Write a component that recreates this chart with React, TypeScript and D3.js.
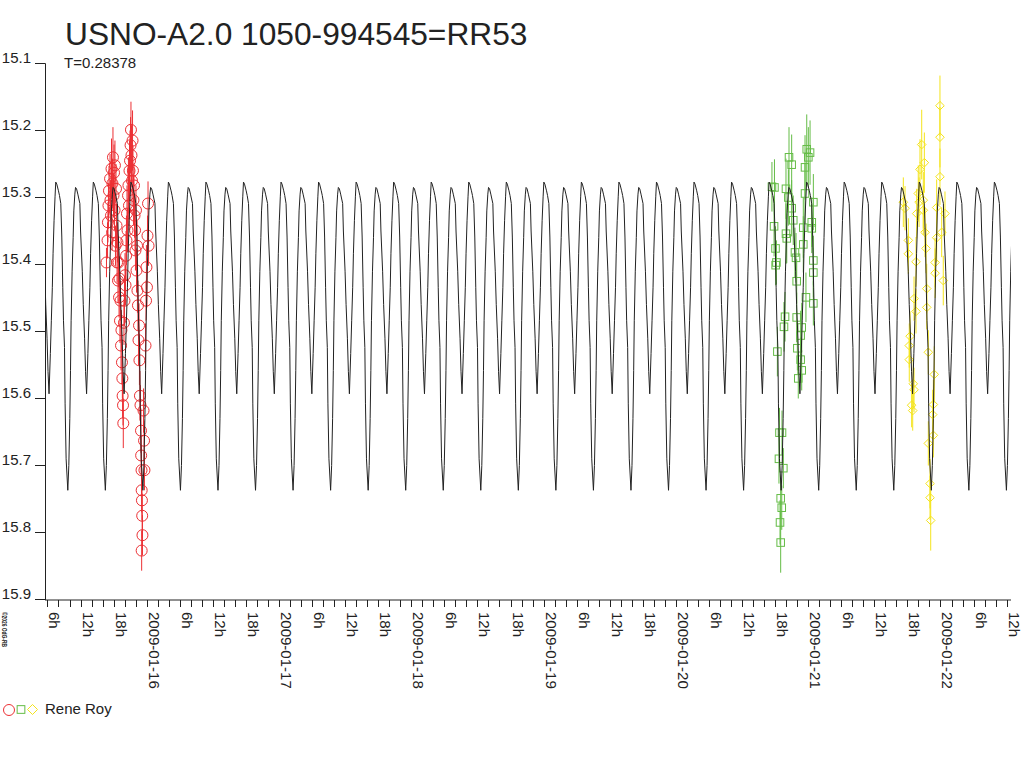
import * as d3 from "d3";

// light curve of USNO-A2.0 1050-994545 (RR53), times are days of January 2009 (UT)
const TITLE = "USNO-A2.0 1050-994545=RR53";
const PERIOD = 0.28378;
const EPOCH = 15.6875; // a deep minimum
const OBSERVER = "Rene Roy";

// one cycle of the model curve (phase 0 = deep minimum)
const templatePhase = [
  0.0, 0.027, 0.053, 0.072, 0.088, 0.115, 0.142, 0.16, 0.187, 0.206, 0.233, 0.267,
  0.321, 0.34, 0.385, 0.412, 0.447, 0.473, 0.5, 0.535, 0.561, 0.588, 0.607, 0.634,
  0.66, 0.679, 0.706, 0.751, 0.778, 0.813, 0.84, 0.866, 0.885, 0.912, 0.928, 0.955,
];
const templateMag = [
  15.737, 15.7, 15.63, 15.558, 15.484, 15.41, 15.36, 15.32, 15.295, 15.285, 15.287, 15.295,
  15.309, 15.35, 15.41, 15.46, 15.51, 15.56, 15.593, 15.533, 15.484, 15.434, 15.384, 15.334,
  15.299, 15.277, 15.28, 15.29, 15.297, 15.309, 15.359, 15.434, 15.484, 15.524, 15.608, 15.69,
];

// observations, red circles
const redDay = [
  15.696, 15.704, 15.707, 15.711, 15.715, 15.723, 15.726, 15.73, 15.734, 15.738, 15.741, 15.745,
  15.749, 15.753, 15.757, 15.76, 15.764, 15.768, 15.772, 15.776, 15.779, 15.783, 15.787, 15.791,
  15.794, 15.798, 15.802, 15.806, 15.809, 15.813, 15.816, 15.818, 15.821, 15.823, 15.828, 15.832,
  15.836, 15.84, 15.844, 15.847, 15.851, 15.855, 15.859, 15.862, 15.866, 15.87, 15.874, 15.878,
  15.881, 15.885, 15.889, 15.893, 15.896, 15.9, 15.904, 15.908, 15.912, 15.915, 15.919, 15.923,
  15.927, 15.93, 15.934, 15.938, 15.942, 15.945, 15.949, 15.953, 15.957, 15.958, 15.961, 15.962,
  15.964, 15.966, 15.968, 15.962, 15.976, 15.98, 15.983, 15.991, 15.995, 15.998, 16.002, 16.006,
  16.01, 16.014,
];
const redMag = [
  15.397, 15.364, 15.337, 15.312, 15.29, 15.272, 15.304, 15.327, 15.257, 15.352, 15.279, 15.24,
  15.297, 15.263, 15.319, 15.252, 15.372, 15.287, 15.342, 15.397, 15.367, 15.424, 15.397, 15.449,
  15.421, 15.484, 15.454, 15.521, 15.498, 15.546, 15.57, 15.596, 15.61, 15.637, 15.487, 15.454,
  15.416, 15.431, 15.387, 15.364, 15.324, 15.349, 15.297, 15.282, 15.312, 15.26, 15.245, 15.222,
  15.199, 15.237, 15.275, 15.215, 15.26, 15.304, 15.282, 15.327, 15.349, 15.379, 15.319, 15.409,
  15.372, 15.439, 15.461, 15.513, 15.491, 15.543, 15.596, 15.61, 15.648, 15.685, 15.707, 15.737,
  15.752, 15.775, 15.804, 15.827, 15.618, 15.663, 15.707, 15.521, 15.454, 15.404, 15.434, 15.357,
  15.309, 15.372,
];
const redErr = [
  0.022, 0.027, 0.03, 0.033, 0.037, 0.037, 0.03, 0.033, 0.045, 0.027, 0.037, 0.045,
  0.033, 0.042, 0.03, 0.037, 0.03, 0.037, 0.033, 0.03, 0.03, 0.033, 0.037, 0.03,
  0.033, 0.033, 0.03, 0.037, 0.03, 0.033, 0.03, 0.033, 0.03, 0.037, 0.033, 0.037,
  0.033, 0.03, 0.037, 0.037, 0.042, 0.033, 0.045, 0.042, 0.037, 0.045, 0.045, 0.042,
  0.042, 0.045, 0.037, 0.045, 0.037, 0.037, 0.033, 0.033, 0.037, 0.03, 0.037, 0.033,
  0.037, 0.033, 0.037, 0.037, 0.033, 0.037, 0.037, 0.03, 0.033, 0.03, 0.037, 0.033,
  0.03, 0.033, 0.03, 0.03, 0.033, 0.03, 0.03, 0.033, 0.03, 0.033, 0.03, 0.03,
  0.033, 0.03,
];

// green squares
const greenDay = [
  20.726, 20.745, 20.742, 20.753, 20.76, 20.754, 20.767, 20.783, 20.802, 20.779, 20.812, 20.792,
  20.8, 20.787, 20.792, 20.817, 20.825, 20.832, 20.838, 20.832, 20.85, 20.855, 20.875, 20.875,
  20.887, 20.9, 20.908, 20.913, 20.913, 20.918, 20.925, 20.943, 20.951, 20.951, 20.943, 20.963,
  20.963, 20.983, 20.976, 20.976, 20.989, 21.001, 21.014, 21.027, 21.027, 21.039, 21.039, 21.039,
  21.039,
];
const greenMag = [
  15.284, 15.285, 15.343, 15.376, 15.397, 15.401, 15.53, 15.651, 15.651, 15.69, 15.704, 15.749,
  15.763, 15.785, 15.815, 15.493, 15.478, 15.354, 15.361, 15.287, 15.3, 15.24, 15.251, 15.316,
  15.334, 15.382, 15.39, 15.425, 15.479, 15.525, 15.57, 15.506, 15.494, 15.558, 15.542, 15.37,
  15.345, 15.449, 15.294, 15.255, 15.228, 15.24, 15.233, 15.337, 15.346, 15.307, 15.394, 15.412,
  15.458,
];
const greenErr = [
  0.037, 0.042, 0.045, 0.033, 0.033, 0.03, 0.037, 0.037, 0.033, 0.037, 0.03, 0.03,
  0.033, 0.033, 0.045, 0.037, 0.037, 0.045, 0.037, 0.045, 0.042, 0.045, 0.045, 0.042,
  0.037, 0.037, 0.037, 0.033, 0.037, 0.033, 0.03, 0.037, 0.037, 0.03, 0.033, 0.042,
  0.045, 0.037, 0.045, 0.048, 0.052, 0.045, 0.048, 0.037, 0.037, 0.042, 0.037, 0.037,
  0.033,
];

// yellow diamonds
const yellowDay = [
  21.719, 21.732, 21.757, 21.757, 21.77, 21.764, 21.764, 21.782, 21.79, 21.794, 21.8, 21.8,
  21.815, 21.815, 21.82, 21.832, 21.838, 21.845, 21.858, 21.878, 21.87, 21.87, 21.883, 21.891,
  21.896, 21.896, 21.908, 21.908, 21.921, 21.921, 21.926, 21.941, 21.946, 21.946, 21.953, 21.959,
  21.959, 21.971, 21.971, 21.996, 21.996, 21.996, 22.009, 22.021, 22.034,
];
const yellowMag = [
  15.307, 15.316, 15.364, 15.384, 15.507, 15.521, 15.542, 15.61, 15.618, 15.578, 15.587, 15.451,
  15.396, 15.47, 15.324, 15.294, 15.307, 15.258, 15.221, 15.248, 15.304, 15.319, 15.352, 15.376,
  15.436, 15.464, 15.531, 15.667, 15.727, 15.748, 15.782, 15.624, 15.609, 15.655, 15.564, 15.397,
  15.413, 15.315, 15.36, 15.269, 15.21, 15.163, 15.352, 15.424, 15.324,
];
const yellowErr = [
  0.037, 0.033, 0.033, 0.03, 0.037, 0.033, 0.033, 0.033, 0.03, 0.037, 0.033, 0.033,
  0.037, 0.033, 0.037, 0.042, 0.037, 0.045, 0.052, 0.045, 0.042, 0.037, 0.037, 0.037,
  0.037, 0.033, 0.033, 0.033, 0.037, 0.033, 0.045, 0.037, 0.037, 0.033, 0.042, 0.037,
  0.037, 0.042, 0.037, 0.042, 0.045, 0.045, 0.037, 0.037, 0.033,
];

const yTicks = [15.1, 15.2, 15.3, 15.4, 15.5, 15.6, 15.7, 15.8, 15.9];

const RED = "#ec3034";
const GREEN = "#64bc46";
const YELLOW = "#f4e41c";
const FONT = "'Liberation Sans', Arial, sans-serif";

const dayToDate = (d: number) => new Date(Date.UTC(2009, 0, 1) + (d - 1) * 864e5);

const DAY_START = 15.2313;
const DAY_END = 22.5329;

const x = d3.scaleUtc().domain([dayToDate(DAY_START), dayToDate(DAY_END)]).range([45, 1011]);
const y = d3.scaleLinear().domain([15.1, 15.9]).range([63.5, 599.5]);

export default function App() {
  // repeat the read cycle across the plotted span
  const curve: [number, number][] = [];
  const n0 = Math.floor((DAY_START - EPOCH) / PERIOD) - 1;
  const n1 = Math.ceil((DAY_END - EPOCH) / PERIOD) + 1;
  for (let n = n0; n <= n1; n++) {
    templatePhase.forEach((p, i) => {
      curve.push([EPOCH + (n + p) * PERIOD, templateMag[i]]);
    });
  }
  const line = d3
    .line<[number, number]>()
    .x((d) => x(dayToDate(d[0])))
    .y((d) => y(d[1]));

  const xTicks = x.ticks(d3.utcHour.every(2)!);
  const fmtDate = d3.utcFormat("%Y-%m-%d");

  const series = [
    { days: redDay, mags: redMag, errs: redErr, color: RED, shape: "circle" },
    { days: greenDay, mags: greenMag, errs: greenErr, color: GREEN, shape: "square" },
    { days: yellowDay, mags: yellowMag, errs: yellowErr, color: YELLOW, shape: "diamond" },
  ];

  const marker = (shape: string, cx: number, cy: number, color: string, s: number, key?: any) => {
    if (shape === "circle")
      return <circle key={key} cx={cx} cy={cy} r={s} fill="none" stroke={color} />;
    if (shape === "square")
      return (
        <rect key={key} x={cx - s * 0.7} y={cy - s * 0.7} width={s * 1.4} height={s * 1.4} fill="none" stroke={color} />
      );
    return (
      <path
        key={key}
        d={`M${cx},${cy - s}L${cx + s},${cy}L${cx},${cy + s}L${cx - s},${cy}Z`}
        fill="none"
        stroke={color}
      />
    );
  };

  return (
    <svg
      width={1024}
      height={768}
      style={{ position: "absolute", left: 0, top: 0, background: "#fff" }}
      fontFamily={FONT}
    >
      <defs>
        <clipPath id="plot">
          <rect x={45} y={0} width={966} height={768} />
        </clipPath>
      </defs>

      <text x={65} y={45} fontSize={31.7} fill="#222">
        {TITLE}
      </text>
      <text x={64} y={68} fontSize={15} fill="#222">
        T={PERIOD}
      </text>

      {/* y axis */}
      <line x1={45.5} x2={45.5} y1={y(15.1)} y2={600} stroke="#222" />
      {yTicks.map((t) => (
        <g key={t}>
          <line x1={35} x2={45.5} y1={y(t)} y2={y(t)} stroke="#222" />
          <text x={31} y={y(t) - 0.5} textAnchor="end" fontSize={15} fill="#222">
            {t.toFixed(1)}
          </text>
        </g>
      ))}

      {/* x axis */}
      <line x1={45} x2={1011} y1={600} y2={600} stroke="#222" />
      {xTicks.map((t, i) => {
        const px = Math.round(x(t)) + 0.5;
        const h = t.getUTCHours();
        return (
          <g key={i}>
            <line x1={px} x2={px} y1={600} y2={607} stroke="#222" />
            {h % 6 === 0 && (
              <text transform={`translate(${px + 1},612) rotate(90)`} fontSize={15} fill="#222">
                {h === 0 ? fmtDate(t) : `${h}h`}
              </text>
            )}
          </g>
        );
      })}

      {/* observations */}
      {series.map((s, si) => (
        <g key={si}>
          {s.days.map((d, i) => {
            const cx = x(dayToDate(d));
            return (
              <line
                key={"e" + i}
                x1={cx}
                x2={cx}
                y1={y(s.mags[i] - s.errs[i])}
                y2={y(s.mags[i] + s.errs[i])}
                stroke={s.color}
              />
            );
          })}
          {s.days.map((d, i) =>
            marker(s.shape, x(dayToDate(d)), y(s.mags[i]), s.color, s.shape === "circle" ? 5.5 : s.shape === "square" ? 5.4 : 4.3, "m" + i)
          )}
        </g>
      ))}

      {/* model */}
      <path d={line(curve) ?? ""} fill="none" stroke="#222" strokeWidth={1} clipPath="url(#plot)" />

      {/* legend */}
      {marker("circle", 9, 710, RED, 5.5)}
      {marker("square", 21, 709.5, GREEN, 5.5)}
      {marker("diamond", 32.5, 709.5, YELLOW, 5)}
      <text x={45} y={714} fontSize={15} fill="#222">
        {OBSERVER}
      </text>

      <text
        transform="translate(1.5,612) rotate(90)"
        fontSize={8}
        fontWeight="bold"
        textLength={35}
        lengthAdjust="spacingAndGlyphs"
        fill="#222"
      >
        ©2026 OdG-RB
      </text>
    </svg>
  );
}
